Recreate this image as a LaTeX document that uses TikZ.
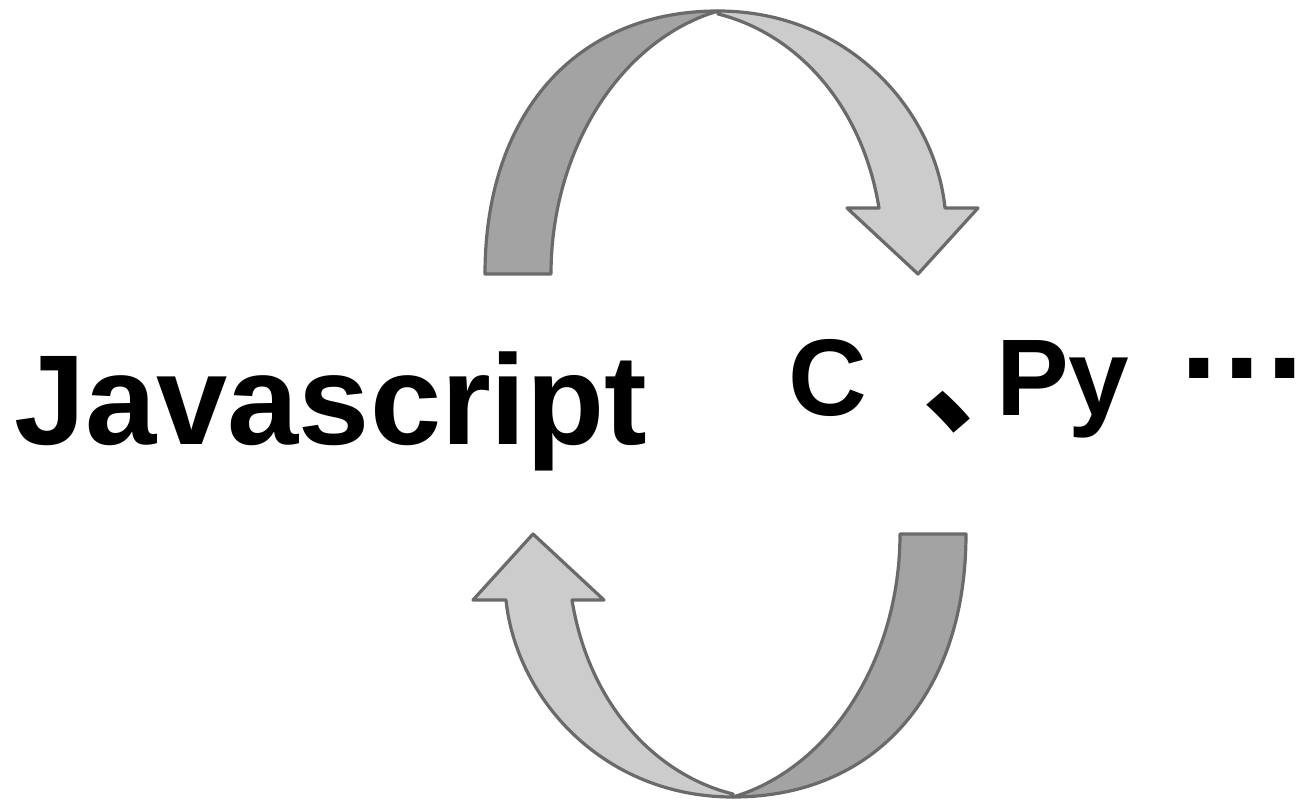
\documentclass[tikz,border=0pt]{standalone}
\usepackage{fontspec}
\setmainfont{Liberation Sans}
\newfontfamily\cjk{Noto Sans CJK SC}
\definecolor{edgegray}{HTML}{6A6A6A}
\definecolor{darkband}{HTML}{A3A3A3}
\definecolor{lightband}{HTML}{CCCCCC}
\tikzset{
  bandline/.style={draw=edgegray,line width=3.2pt,line join=round},
  backband/.style={bandline,fill=darkband},
  frontband/.style={bandline,fill=lightband},
  bigtext/.style={inner sep=0pt,anchor=base west,font=\bfseries}
}
\newcommand\twistarrow{%
  \path[backband] (485,274) .. controls (485,115) and (575,11) .. (718,11)
     .. controls (620,40) and (551,150) .. (551,274) -- cycle;
  \path[frontband] (718,11) .. controls (848,11) and (935,110) .. (945,208)
     -- (978,208) -- (918,274) -- (847,208) -- (879,208)
     .. controls (862,103) and (795,33) .. (718,14) -- cycle;
}
\begin{document}
\begin{tikzpicture}[x=1pt,y=-1pt]
\useasboundingbox (0,0) rectangle (1307,800);
\fill[white] (0,0) rectangle (1307,800);
\twistarrow
\begin{scope}[rotate around={180:(725.5,404)}]
\twistarrow
\end{scope}
\node[bigtext] (js) at (14,444) {\fontsize{128}{128}\selectfont Javascript};
\node[bigtext] (others) at (788,415) {\fontsize{109}{109}\selectfont
  \makebox[134pt][l]{C}\makebox[74pt][l]{\raisebox{-8pt}{\fontsize{128}{128}\selectfont\cjk 、}}Py\hspace{51pt}%
  {\fontsize{135}{135}\selectfont\raisebox{37pt}{.\hspace{5.5pt}.\hspace{5.5pt}.}}};
\end{tikzpicture}
\end{document}
